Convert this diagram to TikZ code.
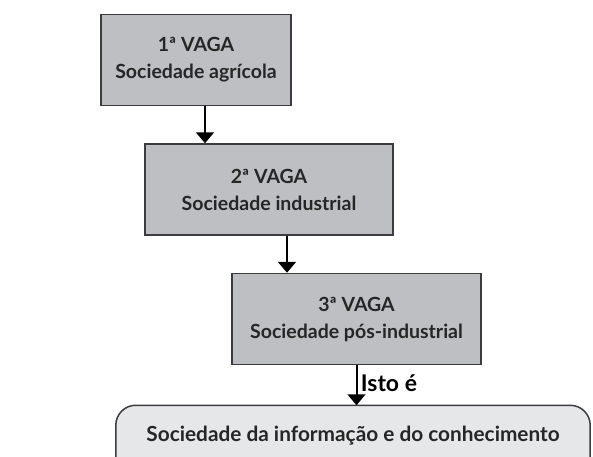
\documentclass[tikz,border=0pt]{standalone}
\usepackage{fontspec}
\setmainfont{Lato}
\usepackage{tikz}
\usetikzlibrary{positioning, arrows.meta, backgrounds}

\definecolor{boxgray}{RGB}{190,191,195}
\definecolor{infogray}{RGB}{230,231,232}
\definecolor{edgegray}{RGB}{60,60,62}

\begin{document}
\begin{tikzpicture}[x=1pt, y=-1pt, node distance=37pt, auto,
        font=\fontsize{19.5}{27}\selectfont\bfseries]
        % Styles
        \tikzstyle{vaga} = [rectangle, draw=edgegray, fill=boxgray, line width=1.5pt,
            align=center, minimum height=91pt, text=black!85]
        \tikzstyle{info} = [rectangle, minimum height=60pt, minimum width=474pt,
            align=center, text=black!85, font=\fontsize{20.8}{24}\selectfont\bfseries]
        \tikzstyle{line} = [draw, line width=2pt, -{Triangle[width=18pt, length=11pt]}]

        \useasboundingbox (0,0) rectangle (593,456);

        % Nodes
        \node [vaga, minimum width=190pt] (wave1) at (196,60)
            {1ª VAGA \\ Sociedade agrícola};
        \node [vaga, minimum width=248pt, below=of wave1, xshift=73pt] (wave2)
            {2ª VAGA \\ Sociedade industrial};
        \node [vaga, minimum width=249pt, below=of wave2, xshift=87.5pt] (wave3)
            {3ª VAGA \\ Sociedade pós-industrial};
        \node [info, below=40pt of wave3, xshift=-3.5pt] (society)
            {Sociedade da informação e do conhecimento};

        \begin{scope}[on background layer]
            \filldraw [draw=edgegray, fill=infogray, line width=1.5pt, rounded corners=20pt]
                ([yshift=-30pt]society.south west) -- (society.north west)
                -- (society.north east) -- ([yshift=-30pt]society.south east);
        \end{scope}

        % Connections
        \path [line] ([xshift=9pt]wave1.south) -- ([xshift=9pt]wave1.south |- wave2.north);
        \path [line] ([xshift=18pt]wave2.south) -- ([xshift=18pt]wave2.south |- wave3.north);
        \path [line] (wave3.south) -- (wave3.south |- society.north)
            node [right, pos=0.45, font=\fontsize{23}{24}\selectfont\bfseries] {Isto é};
    \end{tikzpicture}
\end{document}
